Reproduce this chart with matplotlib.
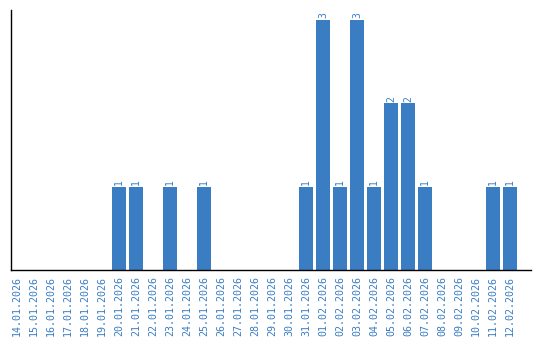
import matplotlib
matplotlib.use("Agg")
import matplotlib.pyplot as plt

dates = ["14.01.2026", "15.01.2026", "16.01.2026", "17.01.2026", "18.01.2026",
         "19.01.2026", "20.01.2026", "21.01.2026", "22.01.2026", "23.01.2026",
         "24.01.2026", "25.01.2026", "26.01.2026", "27.01.2026", "28.01.2026",
         "29.01.2026", "30.01.2026", "31.01.2026", "01.02.2026", "02.02.2026",
         "03.02.2026", "04.02.2026", "05.02.2026", "06.02.2026", "07.02.2026",
         "08.02.2026", "09.02.2026", "10.02.2026", "11.02.2026", "12.02.2026"]
counts = [0, 0, 0, 0, 0, 0, 1, 1, 0, 1, 0, 1, 0, 0, 0, 0, 0, 1, 3, 1,
          3, 1, 2, 2, 1, 0, 0, 0, 1, 1]

color = "#3a7dc2"
fig = plt.figure(figsize=(5.4, 3.4), dpi=100)
ax = fig.add_axes([11/540, 1 - 270/340, 520/540, 260/340])
x = list(range(len(dates)))
ax.bar(x, counts, width=0.82, color=color)
for xi, c in zip(x, counts):
    if c > 0:
        ax.text(xi, c + 0.02, str(c), rotation=90, ha="center", va="bottom",
                color=color, fontsize=7, family="DejaVu Sans Mono")
ax.set_xlim(-0.353, 30.24)
ax.set_ylim(0, 3.12)
ax.set_xticks(x)
ax.set_xticklabels(dates, rotation=90, color=color, fontsize=7.2,
                   family="DejaVu Sans Mono")
ax.tick_params(axis="x", length=0, pad=4)
ax.set_yticks([])
for s in ["top", "right"]:
    ax.spines[s].set_visible(False)
for s in ["left", "bottom"]:
    ax.spines[s].set_color("black")
    ax.spines[s].set_linewidth(1.0)
fig.savefig("out.png", dpi=100)
